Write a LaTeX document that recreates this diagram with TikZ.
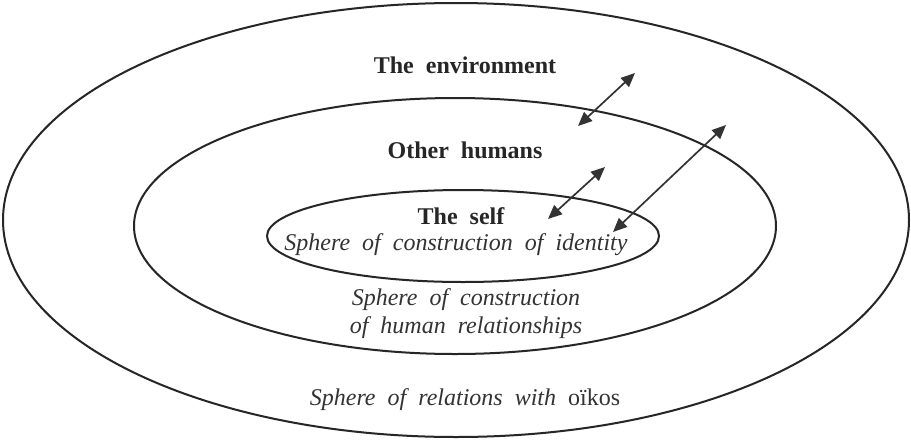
\documentclass[tikz,border=0pt]{standalone}
\usepackage{fontspec}
\setmainfont[WordSpace=2]{Liberation Serif}
\usetikzlibrary{arrows.meta}
\tikzset{
  ring/.style={draw=black!85, line width=2pt},
  dblarrow/.style={draw=black!80, line width=1.7pt, {Triangle[length=14pt,width=12pt]}-{Triangle[length=14pt,width=12pt]}},
  title/.style={font=\fontsize{24}{28}\selectfont\bfseries, text=black!85},
  sphere/.style={font=\fontsize{24}{28}\selectfont\itshape, text=black!80, align=center},
}
\begin{document}
\begin{tikzpicture}[x=1pt,y=-1pt]
\useasboundingbox (0,0) rectangle (911,440);
\fill[white] (0,0) rectangle (911,440);
\draw[ring] (456,220) ellipse [x radius=453, y radius=217];
\draw[ring] (455,226) ellipse [x radius=321, y radius=128];
\draw[ring] (463,236) ellipse [x radius=196, y radius=46];
\node[title] (env) at (465,65) {The environment};
\node[title] (oth) at (465,150) {Other humans};
\node[title] (self) at (461,216) {The self};
\node[sphere] (sid) at (456,245) {Sphere of construction of identity};
\node[sphere] (shr) at (466,314) {Sphere of construction\\of human relationships};
\node[sphere] (soi) at (465,400) {Sphere of relations with \upshape oïkos};
\coordinate (a1) at (578,126);
\coordinate (b1) at (635,73);
\coordinate (a2) at (548,219);
\coordinate (b2) at (605,167);
\coordinate (a3) at (613,232);
\coordinate (b3) at (726,125);
\draw[dblarrow] (a1) -- (b1);
\draw[dblarrow] (a2) -- (b2);
\draw[dblarrow] (a3) -- (b3);
\end{tikzpicture}
\end{document}
